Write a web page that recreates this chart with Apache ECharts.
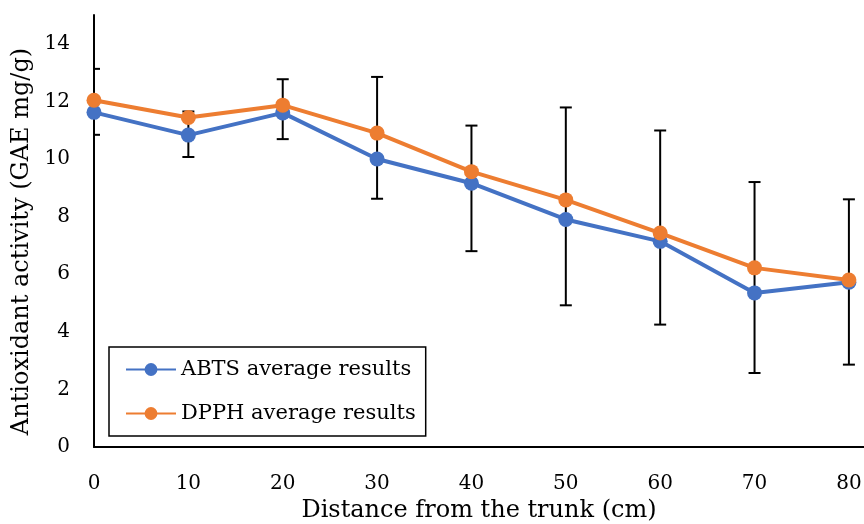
<!DOCTYPE html>
<html>
<head>
<meta charset="utf-8">
<script src="https://cdn.jsdelivr.net/npm/echarts@6/dist/echarts.min.js"></script>
<style>
  html, body { margin: 0; padding: 0; background: #fff; }
  #chart { width: 864px; height: 524px; }
</style>
</head>
<body>
<div id="chart"></div>
<script>
// distance from trunk (cm)
var distances = [0, 10, 20, 30, 40, 50, 60, 70, 80];
// series values
var abtsValues = [11.62, 10.83, 11.6, 10.0, 9.16, 7.9, 7.14, 5.35, 5.72];
var dpphValues = [12.04, 11.44, 11.87, 10.9, 9.56, 8.58, 7.43, 6.22, 5.8];
// error bar ends (low / high)
var errLow = [10.84, 10.07, 10.69, 8.62, 6.8, 4.92, 4.25, 2.57, 2.86];
var errHigh = [13.13, 11.65, 12.77, 12.85, 11.16, 11.79, 10.99, 9.2, 8.6];

var fontName = 'DejaVu Serif';

var chart = echarts.init(document.getElementById('chart'));

function pairs(vals) {
  return distances.map(function (d, i) { return [d, vals[i]]; });
}

var errData = distances.map(function (d, i) { return [d, errLow[i], errHigh[i]]; });

var option = {
  animation: false,
  backgroundColor: '#fff',
  textStyle: { fontFamily: fontName, color: '#000' },
  grid: { left: 94, right: 0, top: 15, bottom: 77, outerBoundsMode: 'none' },
  legend: {
    orient: 'vertical',
    left: 109,
    top: 347,
    padding: [12, 10, 12, 16],
    itemGap: 23,
    itemWidth: 50,
    itemHeight: 16,
    borderColor: '#000',
    borderWidth: 1.5,
    borderRadius: 0,
    backgroundColor: '#fff',
    textStyle: { fontFamily: fontName, fontSize: 21, color: '#000' },
    data: ['ABTS average results', 'DPPH average results']
  },
  xAxis: {
    type: 'value',
    min: 0,
    max: 81.6,
    interval: 10,
    name: 'Distance from the trunk (cm)',
    nameLocation: 'middle',
    nameGap: 52,
    nameTextStyle: { fontFamily: fontName, fontSize: 24, color: '#000' },
    axisLine: { lineStyle: { color: '#000', width: 2 } },
    axisTick: { show: false },
    splitLine: { show: false },
    axisLabel: { margin: 27, fontSize: 20, color: '#000', fontFamily: fontName, showMaxLabel: false }
  },
  yAxis: {
    type: 'value',
    min: 0,
    max: 15,
    interval: 2,
    name: 'Antioxidant activity (GAE mg/g)',
    nameLocation: 'middle',
    nameGap: 58,
    nameTextStyle: { fontFamily: fontName, fontSize: 24, color: '#000', padding: [0, 21, 0, 0] },
    axisLine: { show: true, lineStyle: { color: '#000', width: 2 } },
    axisTick: { show: false },
    splitLine: { show: false },
    axisLabel: { margin: 24, fontSize: 20, color: '#000', fontFamily: fontName, showMaxLabel: false }
  },
  series: [
    {
      name: 'error',
      type: 'custom',
      z: 1,
      clip: true,
      data: errData,
      encode: { x: 0, y: [1, 2] },
      renderItem: function (params, api) {
        var lo = api.coord([api.value(0), api.value(1)]);
        var hi = api.coord([api.value(0), api.value(2)]);
        var half = 6;
        var style = { stroke: '#000', lineWidth: 2, fill: null };
        return {
          type: 'group',
          children: [
            { type: 'line', shape: { x1: lo[0], y1: lo[1], x2: hi[0], y2: hi[1] }, style: style },
            { type: 'line', shape: { x1: lo[0] - half, y1: lo[1], x2: lo[0] + half, y2: lo[1] }, style: style },
            { type: 'line', shape: { x1: hi[0] - half, y1: hi[1], x2: hi[0] + half, y2: hi[1] }, style: style }
          ]
        };
      }
    },
    {
      name: 'ABTS average results',
      type: 'line',
      z: 3,
      clip: false,
      data: pairs(abtsValues),
      symbol: 'circle',
      symbolSize: 15,
      color: '#4472C4',
      lineStyle: { width: 4, color: '#4472C4' },
      itemStyle: { color: '#4472C4' }
    },
    {
      name: 'DPPH average results',
      type: 'line',
      z: 4,
      clip: false,
      data: pairs(dpphValues),
      symbol: 'circle',
      symbolSize: 15,
      color: '#ED7D31',
      lineStyle: { width: 4, color: '#ED7D31' },
      itemStyle: { color: '#ED7D31' }
    }
  ]
};

chart.setOption(option);
</script>
</body>
</html>
